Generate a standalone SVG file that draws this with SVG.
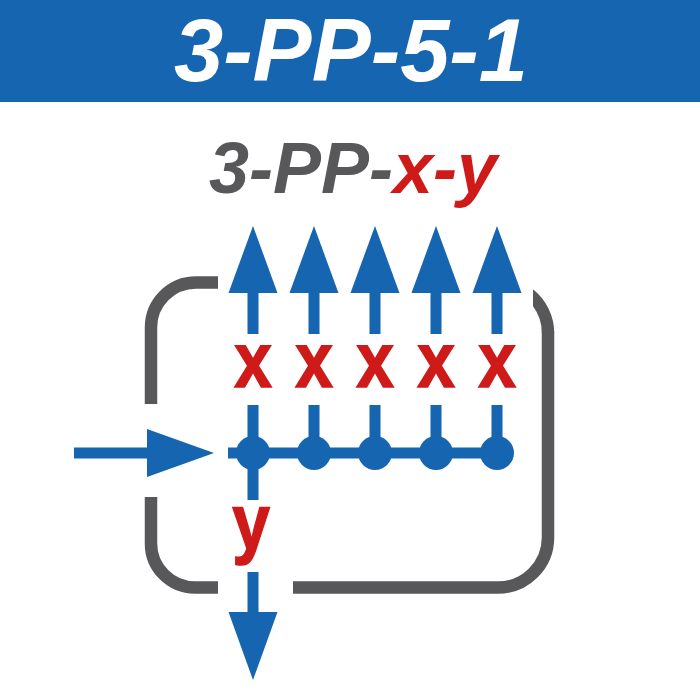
<svg xmlns="http://www.w3.org/2000/svg" width="700" height="700" viewBox="0 0 700 700">
<style>
.t{font-family:"Liberation Sans",Arial,sans-serif;font-weight:700}
.i{font-style:italic}
.r{fill:#cf1a1a}
.g{fill:#58585a}
.b{fill:#1565b0}
.s{stroke:#1565b0;stroke-width:11;fill:none}
.f{stroke:#58585a;stroke-width:12.500;fill:none}
.h{stroke:#cf1a1a;stroke-width:1.500}
</style>
<rect width="700" height="102" fill="#1565b0"/>
<text class="t i" x="351" y="81" font-size="88.5" text-anchor="middle" fill="#fff">3-PP-5-1</text>
<text class="t i g" x="353" y="193" font-size="72" text-anchor="middle">3-PP-<tspan class="r">x-y</tspan></text>
<g id="frame">
<path class="f" d="M218 282.500H196A45 45 0 0 0 151 327.500V404"/>
<path class="f" d="M151 497V543A44 44 0 0 0 195 587.500H218"/>
<path class="f" d="M293 587.500H498A50 50 0 0 0 548 537.500V332"/>
<path class="g" d="M533 289.300A56 56 0 0 1 554.250 333H541.750A44 44 0 0 0 533 306.300Z"/>
</g>
<g id="connectors">
<path class="s" d="M253 293V334M314 293V334M375 293V334M436 293V334M497 293V334"/>
<path class="s" d="M253 405V500M314 405V453M375 405V453M436 405V453M497 405V453"/>
<path class="s" d="M228 453H497"/>
<path class="s" d="M74 453H147"/>
<path class="s" d="M253 572V612"/>
</g>
<g id="arrowheads" class="b">
<path d="M253 226L277.500 293H228.500Z"/>
<path d="M314 226L338.500 293H289.500Z"/>
<path d="M375 226L399.500 293H350.500Z"/>
<path d="M436 226L460.500 293H411.500Z"/>
<path d="M497 226L521.500 293H472.500Z"/>
<path d="M214 453L147 429V477Z"/>
<path d="M253 680L277.500 612H228.500Z"/>
</g>
<g id="nodes" class="b">
<circle id="n1" cx="253" cy="453" r="17"/>
<circle id="n2" cx="314" cy="453" r="17"/>
<circle id="n3" cx="375" cy="453" r="17"/>
<circle id="n4" cx="436" cy="453" r="17"/>
<circle id="n5" cx="497" cy="453" r="17"/>
</g>
<g id="labels" class="t r h" font-size="77" text-anchor="middle">
<text transform="translate(253 386.500) scale(.88 1)">x</text>
<text transform="translate(314 386.500) scale(.88 1)">x</text>
<text transform="translate(375 386.500) scale(.88 1)">x</text>
<text transform="translate(436 386.500) scale(.88 1)">x</text>
<text transform="translate(497 386.500) scale(.88 1)">x</text>
<text transform="translate(251 549) scale(.88 1)">y</text>
</g>
</svg>
